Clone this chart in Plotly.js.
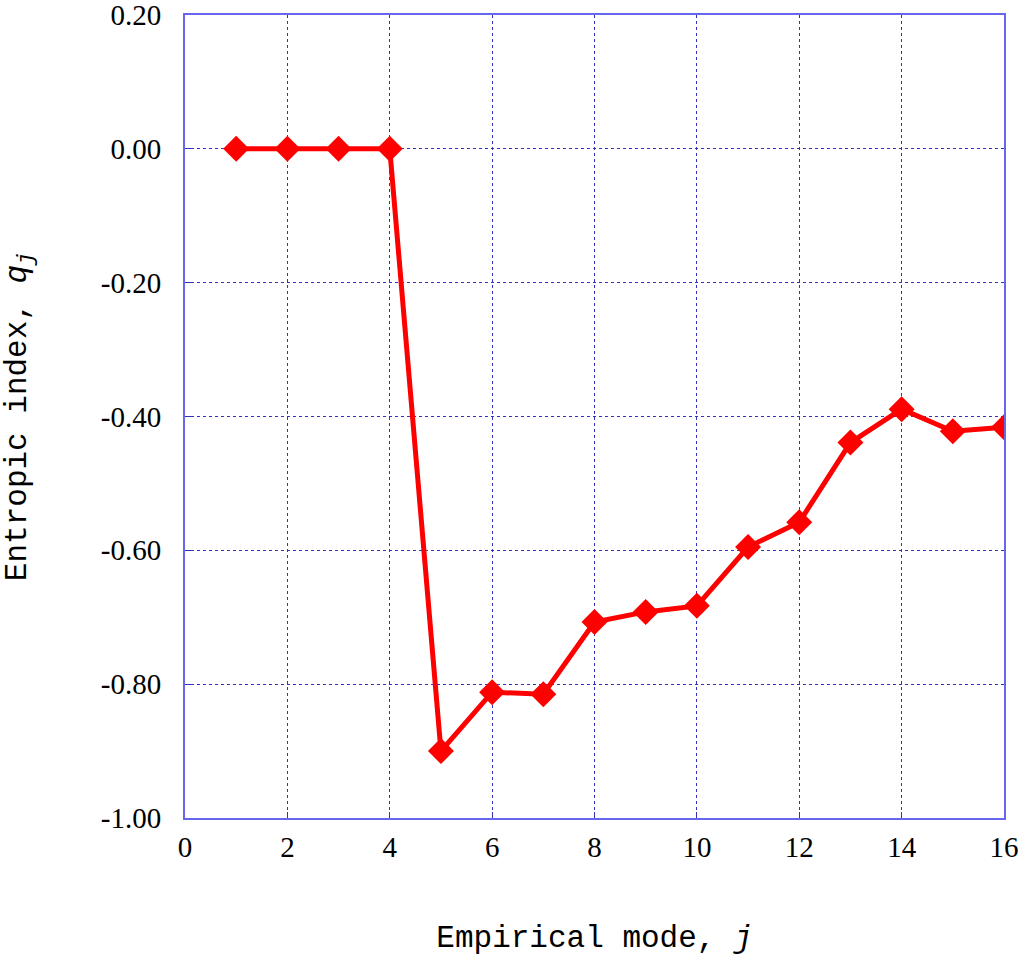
<!DOCTYPE html>
<html>
<head>
<meta charset="utf-8">
<script src="https://cdn.plot.ly/plotly-3.0.1.min.js"></script>
<style>
  body { margin: 0; background: #fff; }
  #plotArea { width: 1020px; height: 956px; }
</style>
</head>
<body>
<div id="plotArea"></div>
<script>
// empirical modes and their entropic index
var modes = [1, 2, 3, 4, 5, 6, 7, 8, 9, 10, 11, 12, 13, 14, 15, 16];
var qValues = [0, 0, 0, 0, -0.900, -0.812, -0.815, -0.707, -0.692, -0.683, -0.595, -0.558, -0.439, -0.389, -0.422, -0.416];

var xTicks = [0, 2, 4, 6, 8, 10, 12, 14, 16];
var yTicks = [-1.0, -0.8, -0.6, -0.4, -0.2, 0, 0.2];
var yTickText = ["-1.00", "-0.80", "-0.60", "-0.40", "-0.20", "0.00", "0.20"];

var serif = "Liberation Serif";
var mono = "Liberation Mono";

var trace = {
    x: modes,
    y: qValues,
    type: "scatter",
    mode: "lines+markers",
    line: {color: "#ff0000", width: 5},
    marker: {symbol: "diamond", size: 20, color: "#ff0000"},
    hoverinfo: "none"
};

var axisStyle = {
    showline: true,
    mirror: true,
    linecolor: "#6666ee",
    linewidth: 2,
    showgrid: true,
    gridcolor: "#3333bb",
    griddash: "dot",
    gridwidth: 1,
    zeroline: false,
    ticks: "inside",
    ticklen: 6,
    tickcolor: "#3333bb",
    ticklabeloverflow: "allow",
    tickfont: {family: serif, size: 29, color: "#000"}
};

var layout = {
    width: 1020,
    height: 956,
    margin: {l: 185, r: 16, t: 15, b: 138},
    paper_bgcolor: "#fff",
    plot_bgcolor: "#fff",
    showlegend: false,
    font: {family: serif},
    xaxis: Object.assign({}, axisStyle, {
        range: [0, 16],
        tickmode: "array",
        tickvals: xTicks,
        ticklabelstandoff: 2,
        title: {
            text: "Empirical mode, <i>j</i>",
            font: {family: mono, size: 31, color: "#000"},
            standoff: 64
        }
    }),
    yaxis: Object.assign({}, axisStyle, {
        range: [-1.0, 0.2],
        tickmode: "array",
        tickvals: yTicks,
        ticktext: yTickText,
        ticklabelstandoff: 16,
        title: {
            text: "Entropic index, <i>q</i><sub><i>j</i></sub>",
            font: {family: mono, size: 31, color: "#000"},
            standoff: 66
        }
    })
};

Plotly.newPlot("plotArea", [trace], layout, {displayModeBar: false, staticPlot: true});
</script>
</body>
</html>
